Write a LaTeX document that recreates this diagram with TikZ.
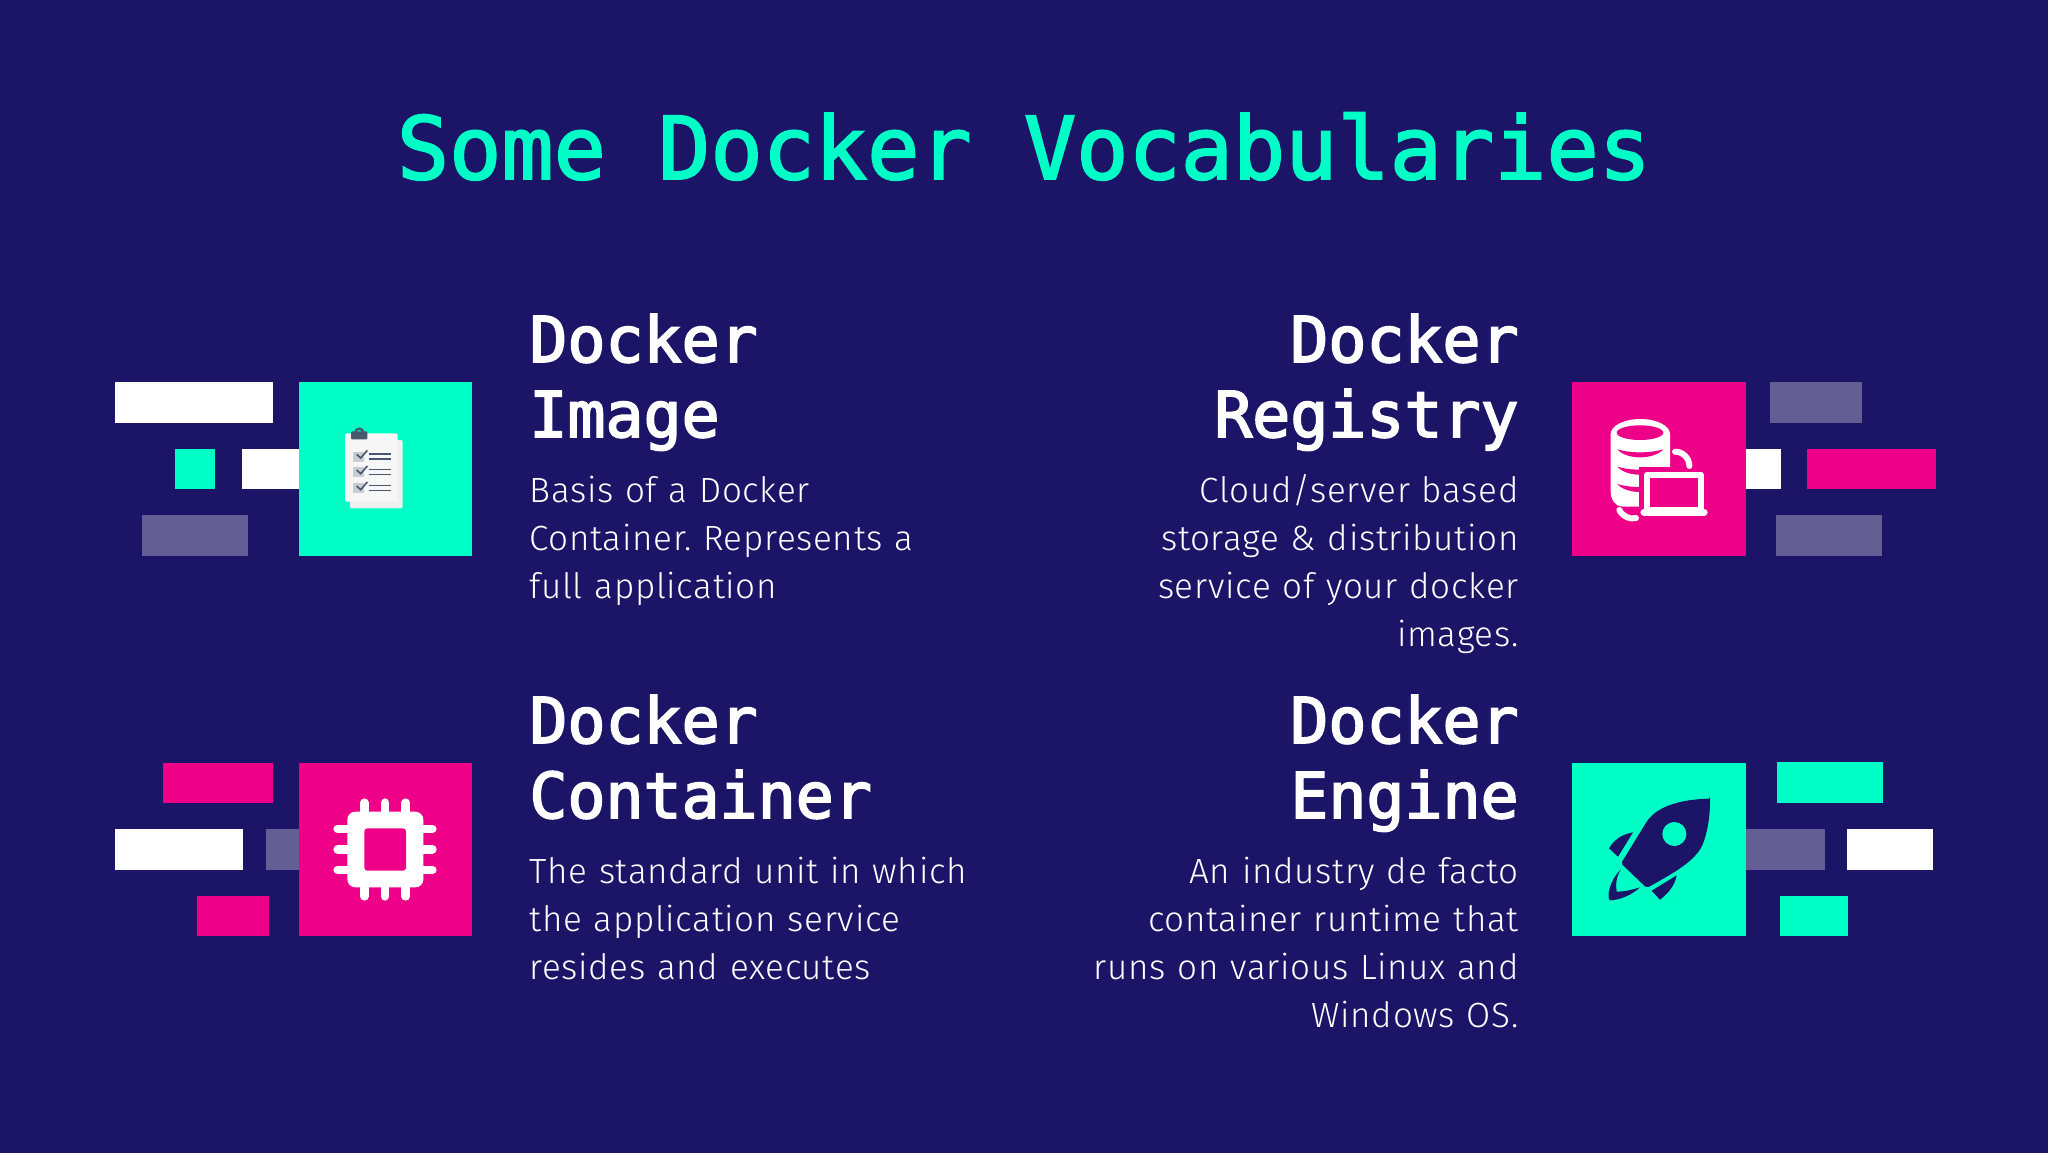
\documentclass[tikz,border=0pt]{standalone}
\usepackage{fontspec}
\newfontfamily\ttlfont{DejaVu Sans Mono}[FakeBold=2.2]
\newfontfamily\hdfont{DejaVu Sans Mono}[FakeBold=2.8]
\newfontfamily\bodyfont{Fira Sans Light}[LetterSpace=2,WordSpace=1.12]
\definecolor{bgblue}{HTML}{1B1467}
\definecolor{mint}{HTML}{00FFC6}
\definecolor{hotpink}{HTML}{EE0088}
\definecolor{dimbar}{HTML}{635F94}
\definecolor{slate}{HTML}{47586F}
\usetikzlibrary{calc,positioning}
\begin{document}
\frenchspacing
\begin{tikzpicture}[x=0.5pt,y=-0.5pt]
\tikzstyle{ttl}=[inner sep = 0 pt, text = mint, font = \ttlfont\fontsize{43.4}{52}\selectfont]
\tikzstyle{hd}=[inner sep = 0 pt, text = white, font = \hdfont\fontsize{31.6}{37.5}\selectfont]
\tikzstyle{txt}=[inner sep = 0 pt, text = white, font = \bodyfont\fontsize{17.5}{23.85}\selectfont]
\tikzstyle{zm}=[x=0.16667pt, y=-0.16667pt]

\useasboundingbox (0,0) rectangle (2048,1152);
\fill[bgblue] (-6,-6) rectangle (2054,1158);

% bars and tiles
\foreach \xa/\ya/\xb/\yb/\c in {115/382/273/423/white, 175/449/215/489/mint, 242/449/299/489/white, 142/515/248/556/dimbar, 299/382/472/556/mint,
  1770/382/1862/423/dimbar, 1746/449/1781/489/white, 1807/449/1936/489/hotpink, 1776/515/1882/556/dimbar, 1572/382/1746/556/hotpink,
  163/763/273/803/hotpink, 115/829/243/870/white, 266/829/299/870/dimbar, 197/896/269/936/hotpink, 299/763/472/936/hotpink,
  1777/762/1883/803/mint, 1746/829/1825/870/dimbar, 1847/829/1933/870/white, 1780/896/1848/936/mint, 1572/763/1746/936/mint}{\fill[\c] (\xa,\ya) rectangle (\xb,\yb);}

% clipboard
\begin{scope}[shift={(100,360)},zm]
\fill[black!6, rounded corners=1pt] (750,240) rectangle (908,445);
\fill[black!3, rounded corners=1pt] (735,220) rectangle (893,425);
\draw[slate, line width=1.2pt] (766,218) arc (180:360:12);
\fill[slate, rounded corners=0.5pt] (753,238) -- (753,214) -- (802,214) -- (802,238) -- cycle;
\foreach \yy in {275,322,370}{
  \fill[slate!30] (760,\yy) rectangle ++(32,30);
  \draw[slate, line width=0.8pt] (770,\yy+8) -- (782,\yy+19) -- (802,\yy-4);
  \draw[slate, line width=0.8pt] (806,\yy+7) -- (872,\yy+7);
  \draw[slate, line width=0.8pt] (806,\yy+22) -- (872,\yy+22);
}
\end{scope}

% database and laptop
\begin{scope}[shift={(1560,360)},zm]
\fill[white] (152,222) -- (152,395) arc (180:90:35 and 45) -- (295,440) arc (90:0:35 and 45) -- (330,222) -- cycle;
\fill[white] (241,222) ellipse (89 and 45);
\fill[hotpink] (240,218) ellipse (70 and 22);
\foreach \yy in {268,320,372}{
  \fill[hotpink] (172,\yy) .. controls (210,\yy+12) and (270,\yy+12) .. (310,\yy) .. controls (280,\yy+32) and (200,\yy+32) .. cycle;
}
\fill[hotpink] (237,322) rectangle (445,480);
\draw[white, line width=3pt, line cap=round] (345,275) arc (-90:0:43);
\draw[white, line width=3pt, line cap=round] (178,450) .. controls (190,472) and (210,478) .. (228,474);
\draw[white, line width=3pt, line join=round] (261,344) rectangle (422,450);
\draw[white, line width=3.6pt, line cap=round] (252,457) -- (432,457);
\end{scope}

% chip
\begin{scope}[shift={(100,750)},zm]
\foreach \p in {793,855,917}{
  \draw[white, line width=4.3pt, line cap=round] (\p,158) -- (\p,240);
  \draw[white, line width=4.3pt, line cap=round] (\p,360) -- (\p,439);
}
\foreach \p in {237,298,360}{
  \draw[white, line width=4.3pt, line cap=round] (713,\p) -- (790,\p);
  \draw[white, line width=4.3pt, line cap=round] (920,\p) -- (997,\p);
}
\fill[white, rounded corners=4pt] (742,185) rectangle (970,412);
\fill[hotpink, rounded corners=1.5pt] (793,235) rectangle (918,362);
\end{scope}

% rocket
\begin{scope}[shift={(1560,750)},zm]
\fill[bgblue, rounded corners=1pt] (450,146) .. controls (370,148) and (300,165) .. (262,212) -- (183,340) -- (260,414) .. controls (330,375) and (395,340) .. (425,290) .. controls (442,250) and (450,200) .. cycle;
\fill[mint] (343,252) circle (36);
\fill[bgblue] (147,295) .. controls (165,265) and (190,252) .. (219,247) -- (174,320) -- cycle;
\fill[bgblue] (350,376) .. controls (345,405) and (325,430) .. (300,449) -- (275,422) -- cycle;
\fill[bgblue] (183,358) .. controls (165,385) and (168,410) .. (170,425) .. controls (190,425) and (215,420) .. (240,412) .. controls (215,435) and (180,450) .. (150,451) .. controls (140,445) and (145,395) .. cycle;
\end{scope}

% title and texts
\node[ttl, anchor=base] (title) at (1024,179) {Some Docker Vocabularies};

\node[hd, anchor=base west, align=left] (imghd) at (529,437) {Docker\\Image};
\node[txt, anchor=base west, align=left] (imgtxt) at (529,598) {Basis of a Docker\\Container. Represents a\\full application};
\node[hd, anchor=base west, align=left] (conhd) at (529,818) {Docker\\Container};
\node[txt, anchor=base west, align=left] (contxt) at (529,979) {The standard unit in which\\the application service\\resides and executes};
\node[hd, anchor=base east, align=right] (reghd) at (1519,437) {Docker\\Registry};
\node[txt, anchor=base east, align=right] (regtxt) at (1519,646) {Cloud/server based\\storage \& distribution\\service of your docker\\images.};
\node[hd, anchor=base east, align=right] (enghd) at (1519,818) {Docker\\Engine};
\node[txt, anchor=base east, align=right] (engtxt) at (1519,1027) {An industry de facto\\container runtime that\\runs on various Linux and\\Windows OS.};
\end{tikzpicture}
\end{document}
